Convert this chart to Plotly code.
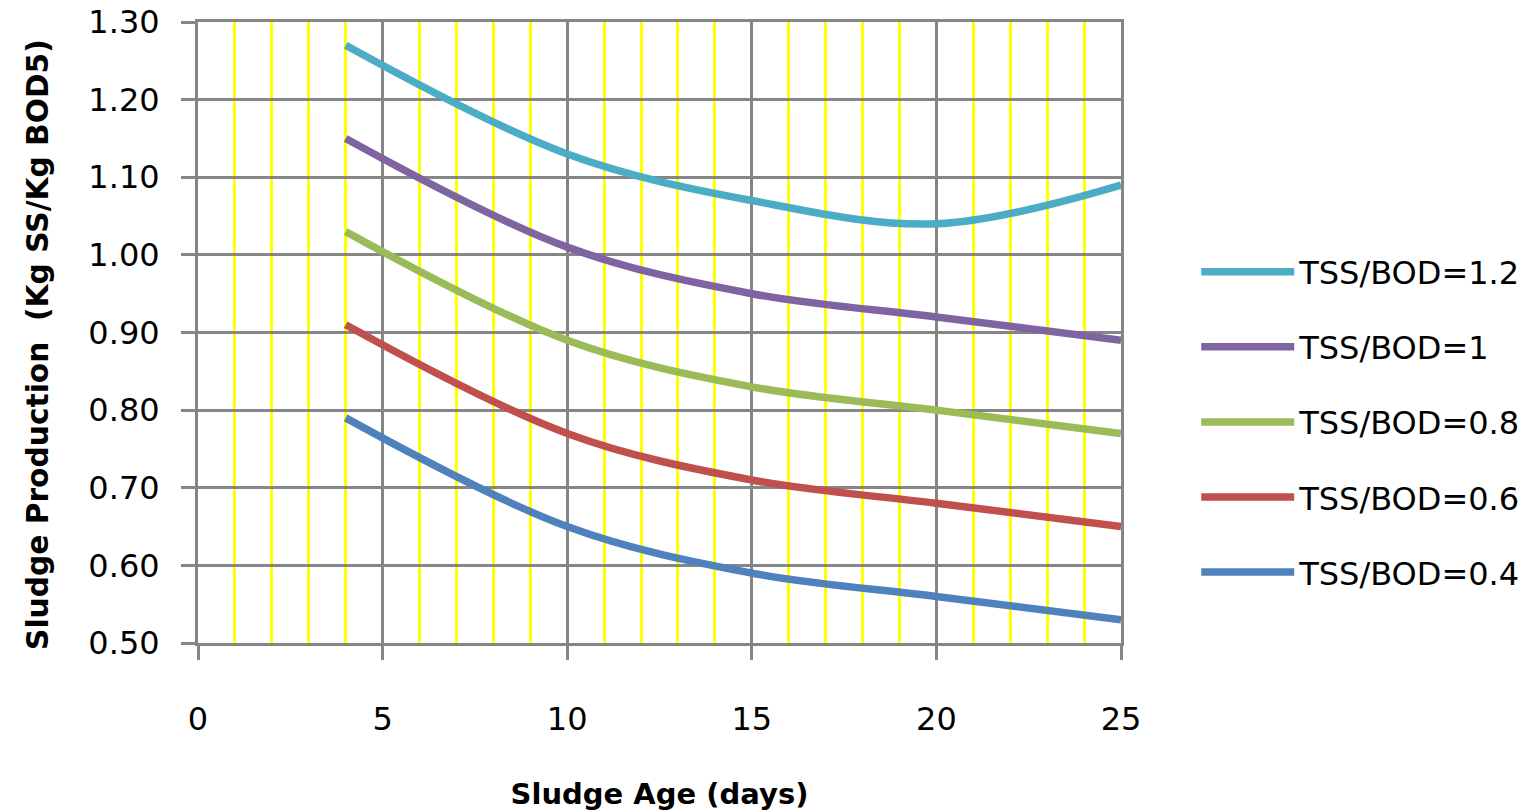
import plotly.graph_objects as go

# Sludge age (days) at which production was evaluated
sludge_age = [4, 10, 15, 20, 25]

# Sludge production (kg SS / kg BOD5) for each TSS/BOD ratio
prod_tss_12 = [1.27, 1.13, 1.07, 1.04, 1.09]
prod_tss_10 = [1.15, 1.01, 0.95, 0.92, 0.89]
prod_tss_08 = [1.03, 0.89, 0.83, 0.80, 0.77]
prod_tss_06 = [0.91, 0.77, 0.71, 0.68, 0.65]
prod_tss_04 = [0.79, 0.65, 0.59, 0.56, 0.53]

series_names = ["TSS/BOD=1.2", "TSS/BOD=1", "TSS/BOD=0.8", "TSS/BOD=0.6", "TSS/BOD=0.4"]
series_values = [prod_tss_12, prod_tss_10, prod_tss_08, prod_tss_06, prod_tss_04]
series_colors = ["#4BACC6", "#8064A2", "#9BBB59", "#C0504D", "#4F81BD"]

x_tick_vals = [0, 5, 10, 15, 20, 25]
y_tick_vals = [0.50, 0.60, 0.70, 0.80, 0.90, 1.00, 1.10, 1.20, 1.30]
y_tick_text = ["0.50", "0.60", "0.70", "0.80", "0.90", "1.00", "1.10", "1.20", "1.30"]

GRID_GRAY = "#868686"
FONT = "DejaVu Sans"

fig = go.Figure()
for i, (name, vals, col) in enumerate(zip(series_names, series_values, series_colors)):
    fig.add_trace(go.Scatter(
        x=sludge_age, y=vals, name=name, mode="lines",
        line=dict(color=col, width=7.5, shape="spline", smoothing=1.0),
        legendgroup=f"g{i}",
    ))

fig.update_layout(
    width=1532, height=811,
    margin=dict(l=198, r=411, t=22, b=168, autoexpand=False),
    paper_bgcolor="white", plot_bgcolor="white",
    font=dict(family=FONT, size=32, color="black"),
    showlegend=True,
    legend=dict(
        x=1.0815, xanchor="left", y=0.356, yanchor="middle",
        font=dict(family=FONT, size=32, color="black"),
        itemwidth=93, tracegroupgap=30.5, traceorder="grouped",
        bgcolor="rgba(0,0,0,0)",
    ),
    xaxis=dict(
        range=[0, 25], tickvals=x_tick_vals, ticktext=[str(v) for v in x_tick_vals],
        showgrid=True, gridcolor=GRID_GRAY, gridwidth=3,
        minor=dict(dtick=1, tick0=0, showgrid=True, gridcolor="#FFFF00", gridwidth=3),
        showline=True, linecolor=GRID_GRAY, linewidth=3, mirror=True,
        ticks="outside", ticklen=14, tickwidth=3, tickcolor=GRID_GRAY,
        ticklabelstandoff=32, automargin=False,
        tickfont=dict(family=FONT, size=32, color="black"),
        zeroline=False,
        title=dict(text="Sludge Age (days)", standoff=48,
                   font=dict(family=FONT, size=29, color="black", weight="bold")),
    ),
    yaxis=dict(
        range=[0.5, 1.3], tickvals=y_tick_vals, ticktext=y_tick_text,
        showgrid=True, gridcolor=GRID_GRAY, gridwidth=3,
        showline=True, linecolor=GRID_GRAY, linewidth=3, mirror=True,
        ticks="outside", ticklen=14, tickwidth=3, tickcolor=GRID_GRAY,
        ticklabelstandoff=15, automargin=False,
        tickfont=dict(family=FONT, size=32, color="black"),
        zeroline=False,
    ),
    annotations=[dict(
        text="Sludge Production  (Kg SS/Kg BOD5)",
        xref="paper", yref="paper", x=-0.1733, y=0.48,
        xanchor="center", yanchor="middle", textangle=-90, showarrow=False,
        font=dict(family=FONT, size=29.7, color="black", weight="bold"),
    )],
)

fig.write_html("out.html")
